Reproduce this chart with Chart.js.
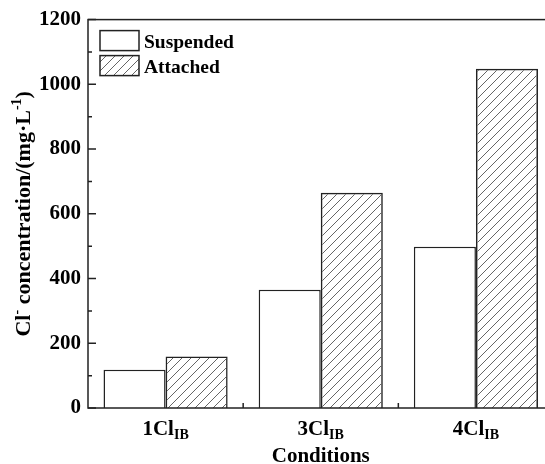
<!DOCTYPE html>
<html>
<head>
<meta charset="utf-8">
<script src="https://cdn.jsdelivr.net/npm/chart.js@4/dist/chart.umd.min.js"></script>
<style>
  html, body { margin: 0; padding: 0; background: #fff; overflow: hidden; }
  #wrap { width: 545px; height: 464px; overflow: hidden; }
  canvas { display: block; }
</style>
</head>
<body>
<div id="wrap"><canvas id="myChart" width="560" height="464"></canvas></div>
<script>
// categories are written "main_sub", the part after "_" is drawn as a subscript
const categories = ["1Cl_IB", "3Cl_IB", "4Cl_IB"];
const suspended = [118, 365, 498];
const attached = [159, 665, 1048];
const seriesNames = ["Suspended", "Attached"];
const yMin = 0, yMax = 1200, yMajor = 200, yMinor = 100;
const xTitle = "Conditions";
// y title pieces: [text, superscript?]
const yTitle = [["Cl", false], ["-", true], [" concentration/(mg\u00b7L", false], ["-1", true], [")", false]];

const serif = '"Liberation Serif", "Times New Roman", serif';
const ink = "#222";

// diagonal hatch for the attached series
const tile = document.createElement("canvas");
tile.width = 9; tile.height = 9;
const tctx = tile.getContext("2d");
tctx.strokeStyle = "#666";
tctx.lineWidth = 1;
tctx.beginPath();
tctx.moveTo(0, 9); tctx.lineTo(9, 0);
tctx.moveTo(-1, 1); tctx.lineTo(1, -1);
tctx.moveTo(8, 10); tctx.lineTo(10, 8);
tctx.stroke();
const hatch = tctx.createPattern(tile, "repeat");

const decorations = {
    id: "decorations",
    afterDraw(chart) {
        const ctx = chart.ctx;
        const area = chart.chartArea;
        const xs = chart.scales.x, ys = chart.scales.y;
        ctx.save();
        ctx.strokeStyle = ink;
        ctx.lineWidth = 1.5;
        // the plot frame runs past the right edge of the picture
        ctx.strokeRect(area.left, area.top, area.right - area.left, area.bottom - area.top);

        // y ticks pointing inward
        ctx.beginPath();
        for (let v = yMin; v <= yMax; v += yMinor) {
            const y = ys.getPixelForValue(v);
            const len = v % yMajor === 0 ? 8 : 4;
            ctx.moveTo(area.left, y);
            ctx.lineTo(area.left + len, y);
        }
        // x ticks between categories
        for (let i = 0; i < categories.length - 1; i++) {
            const x = (xs.getPixelForTick(i) + xs.getPixelForTick(i + 1)) / 2;
            ctx.moveTo(x, area.bottom);
            ctx.lineTo(x, area.bottom - 5);
        }
        ctx.stroke();

        // x tick labels with subscripts
        ctx.fillStyle = "#000";
        ctx.textBaseline = "alphabetic";
        categories.forEach((c, i) => {
            const [main, sub] = c.split("_");
            ctx.font = "bold 21px " + serif;
            const w1 = ctx.measureText(main).width;
            ctx.font = "bold 14px " + serif;
            const w2 = ctx.measureText(sub || "").width;
            const x0 = xs.getPixelForTick(i) - (w1 + w2) / 2;
            ctx.font = "bold 21px " + serif;
            ctx.textAlign = "left";
            ctx.fillText(main, x0, area.bottom + 27);
            if (sub) {
                ctx.font = "bold 14px " + serif;
                ctx.fillText(sub, x0 + w1, area.bottom + 31);
            }
        });

        // x title
        ctx.font = "bold 21px " + serif;
        ctx.textAlign = "center";
        ctx.fillText(xTitle, (area.left + area.right) / 2, area.bottom + 54);

        // y title, rotated
        let total = 0;
        yTitle.forEach(([t, sup]) => {
            ctx.font = (sup ? "bold 14px " : "bold 22px ") + serif;
            total += ctx.measureText(t).width;
        });
        ctx.translate(30, (area.top + area.bottom) / 2);
        ctx.rotate(-Math.PI / 2);
        ctx.textAlign = "left";
        let px = -total / 2;
        yTitle.forEach(([t, sup]) => {
            ctx.font = (sup ? "bold 14px " : "bold 22px ") + serif;
            ctx.fillText(t, px, sup ? -9 : 0);
            px += ctx.measureText(t).width;
        });
        ctx.setTransform(1, 0, 0, 1, 0, 0);

        // legend inside the plot
        chart.data.datasets.forEach((ds, i) => {
            const bx = area.left + 12, by = area.top + 11 + i * 25;
            ctx.fillStyle = ds.backgroundColor;
            ctx.fillRect(bx, by, 39, 20);
            ctx.strokeStyle = ink;
            ctx.lineWidth = 1.5;
            ctx.strokeRect(bx, by, 39, 20);
            ctx.fillStyle = "#000";
            ctx.font = "bold 19.5px " + serif;
            ctx.textAlign = "left";
            ctx.fillText(ds.label, bx + 44, by + 17);
        });
        ctx.restore();
    }
};

new Chart("myChart", {
    type: "bar",
    data: {
        labels: categories,
        datasets: [{
            label: seriesNames[0],
            data: suspended,
            backgroundColor: "#ffffff",
            borderColor: ink,
            borderWidth: 1.5
        }, {
            label: seriesNames[1],
            data: attached,
            backgroundColor: hatch,
            borderColor: ink,
            borderWidth: 1.5
        }]
    },
    options: {
        responsive: false,
        animation: false,
        devicePixelRatio: 1,
        layout: { padding: { top: 17, right: 6.5, left: 0, bottom: 0 } },
        datasets: { bar: { categoryPercentage: 0.8, barPercentage: 1.0 } },
        scales: {
            x: {
                grid: { display: false, drawTicks: false },
                border: { display: false },
                ticks: { display: false },
                afterFit(scale) { scale.height = 56; }
            },
            y: {
                min: yMin,
                max: yMax,
                grid: { display: false, drawTicks: false },
                border: { display: false },
                ticks: {
                    stepSize: yMinor,
                    autoSkip: false,
                    padding: 7,
                    color: "#000",
                    font: { family: serif, weight: "bold", size: 21 },
                    callback: (v) => (v % yMajor === 0 ? v : "")
                },
                afterFit(scale) { scale.width = 88; }
            }
        },
        plugins: {
            legend: { display: false },
            title: { display: false },
            tooltip: { enabled: false }
        }
    },
    plugins: [decorations]
});
</script>
</body>
</html>
